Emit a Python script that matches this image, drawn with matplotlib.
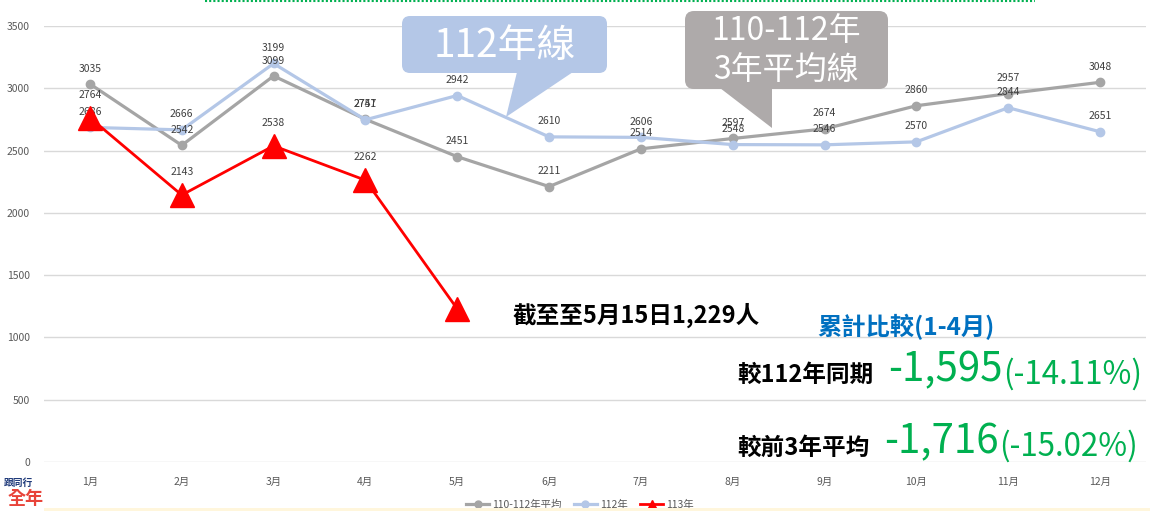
import matplotlib
matplotlib.use("Agg")
import matplotlib.pyplot as plt
from matplotlib.patches import FancyBboxPatch, Polygon, Rectangle
from matplotlib.lines import Line2D

plt.rcParams['font.family'] = ['Noto Sans CJK TC', 'DejaVu Sans']

months = ['1月', '2月', '3月', '4月', '5月', '6月', '7月', '8月', '9月', '10月', '11月', '12月']
avg_110_112 = [3035, 2542, 3099, 2751, 2451, 2211, 2514, 2597, 2674, 2860, 2957, 3048]
y112 = [2686, 2666, 3199, 2747, 2942, 2610, 2606, 2548, 2546, 2570, 2844, 2651]
y113 = [2764, 2143, 2538, 2262, 1229]
y_ticks = [0, 500, 1000, 1500, 2000, 2500, 3000, 3500]

GRAY = '#A5A5A5'
BLUE = '#B4C7E7'
RED = '#FF0000'
GREEN = '#00B050'
LABEL = '#404040'

fig = plt.figure(figsize=(11.5, 5.11), dpi=100)
W, H = 1150, 511

# main axes: 1月 at x=90, 12月 at x=1100 ; 0 at y=462, 3500 at y=26
ax = fig.add_axes([44 / W, (H - 462) / H, 1102 / W, 436 / H])
x = list(range(len(months)))
ax.plot(x, avg_110_112, color=GRAY, lw=2.3, marker='o', ms=6, zorder=3, clip_on=False)
ax.plot(x, y112, color=BLUE, lw=2.3, marker='o', ms=6, zorder=3, clip_on=False)
ax.plot(x[:len(y113)], y113, color=RED, lw=2.0, marker='^', ms=17, zorder=4, clip_on=False)

for i, v in enumerate(avg_110_112):
    ax.annotate(str(v), (i, v), xytext=(0, 7.5), textcoords='offset points',
                ha='center', va='bottom', fontsize=7.5, color=LABEL)
for i, v in enumerate(y112):
    ax.annotate(str(v), (i, v), xytext=(0, 7.5), textcoords='offset points',
                ha='center', va='bottom', fontsize=7.5, color=LABEL)
for i, v in enumerate(y113[:4]):
    ax.annotate(str(v), (i, v), xytext=(0, 13), textcoords='offset points',
                ha='center', va='bottom', fontsize=7.5, color=LABEL)

ax.set_xlim(-0.5, len(months) - 0.5)
ax.set_ylim(0, 3500)
ax.set_yticks(y_ticks)
ax.set_xticks(x)
ax.set_xticklabels(months)
ax.tick_params(axis='both', length=0, labelsize=7.5, colors='#595959')
ax.tick_params(axis='x', pad=11)
ax.tick_params(axis='y', pad=10)
ax.grid(axis='y', color='#D9D9D9', lw=1)
ax.set_axisbelow(True)
for s in ax.spines.values():
    s.set_visible(False)

# overlay in pixel coordinates for callouts and notes
ov = fig.add_axes([0, 0, 1, 1], zorder=10)
ov.set_xlim(0, W)
ov.set_ylim(H, 0)
ov.axis('off')
ov.patch.set_alpha(0)

# top dotted green line & bottom band
ov.plot([205, 1035], [1, 1], color=GREEN, lw=1.5, ls=(0, (1, 1)))
ov.add_patch(Rectangle((44, 508), 1106, 4, color='#FFF6DC', lw=0))

# 112年線 callout
ov.add_patch(FancyBboxPatch((406, 20), 197, 49, boxstyle='round,pad=4,rounding_size=8',
                            fc=BLUE, ec='none'))
ov.add_patch(Polygon([(517, 72), (573, 72), (506, 117)], closed=True, fc=BLUE, ec='none'))
ov.text(505, 46, '112年線', color='white', fontsize=28, ha='center', va='center')

# 3年平均線 callout
ov.add_patch(FancyBboxPatch((689, 15), 195, 70, boxstyle='round,pad=4,rounding_size=9',
                            fc='#AEAAAA', ec='none'))
ov.add_patch(Polygon([(720, 88), (772, 88), (772, 128)], closed=True, fc='#AEAAAA', ec='none'))
ov.text(786, 31, '110-112年', color='white', fontsize=23, ha='center', va='center')
ov.text(786, 70, '3年平均線', color='white', fontsize=23, ha='center', va='center')

# notes
ov.text(513, 315, '截至至5月15日1,229人', fontsize=17, weight='bold', color='black',
        ha='left', va='center')
ov.text(817, 327, '累計比較(1-4月)', fontsize=17.5, weight='bold', color='#0070C0',
        ha='left', va='center')
ov.text(737, 375, '較112年同期', fontsize=17, weight='bold', color='black', ha='left', va='center')
ov.text(1003, 370, '-1,595', fontsize=29, color=GREEN, ha='right', va='center')
ov.text(1003, 374, '(-14.11%)', fontsize=22.5, color=GREEN, ha='left', va='center')
ov.text(737, 448, '較前3年平均', fontsize=17, weight='bold', color='black', ha='left', va='center')
ov.text(999, 442, '-1,716', fontsize=29, color=GREEN, ha='right', va='center')
ov.text(999, 446, '(-15.02%)', fontsize=22.5, color=GREEN, ha='left', va='center')

# logo fragment at bottom-left
ov.text(33, 483, '跟同行', fontsize=7, weight='bold', color='#1F3A7A', ha='right', va='center')
ov.text(44, 499, '全年', fontsize=13, weight='bold', color='#E8443A', ha='right', va='center')

# legend
handles = [Line2D([], [], color=GRAY, lw=2.3, marker='o', ms=5),
           Line2D([], [], color=BLUE, lw=2.3, marker='o', ms=5),
           Line2D([], [], color=RED, lw=2.0, marker='^', ms=6)]
fig.legend(handles, ['110-112年平均', '112年', '113年'], loc='center',
           bbox_to_anchor=(580 / W, 1 - 505 / H), ncol=3, frameon=False,
           fontsize=7.5, labelcolor='#595959', handlelength=2.2, columnspacing=1.2,
           handletextpad=0.3)

fig.savefig('out.png', dpi=100)
